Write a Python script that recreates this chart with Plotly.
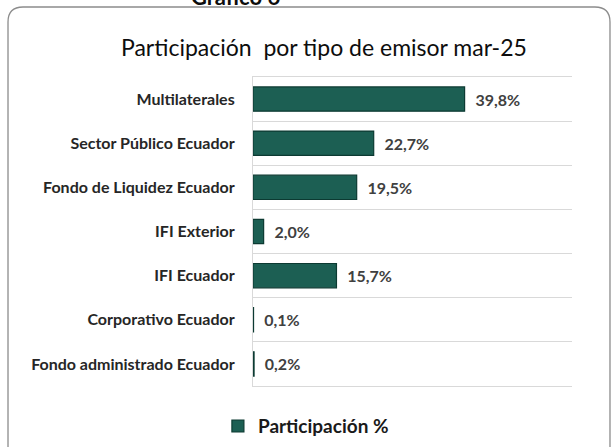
import plotly.graph_objects as go

categories = ["Multilaterales", "Sector Público Ecuador", "Fondo de Liquidez Ecuador",
              "IFI Exterior", "IFI Ecuador", "Corporativo Ecuador", "Fondo administrado Ecuador"]
values = [39.8, 22.7, 19.5, 2.0, 15.7, 0.1, 0.2]
series_name = "Participación %"
title_text = "Participación  por tipo de emisor mar-25"

FONT = "Lato"
fig = go.Figure()
fig.add_trace(go.Bar(
    y=categories, x=values, orientation="h", name=series_name,
    marker=dict(color="#1c5f53", line=dict(color="#0c3a32", width=1.2)),
    width=0.55,
    texttemplate="\u00a0\u00a0%{x:.1f}%", textposition="outside", cliponaxis=False,
    textfont=dict(family=FONT, size=16, color="#404040", weight="bold"),
    showlegend=True,
))

fig.update_layout(
    width=613, height=447,
    margin=dict(l=253, r=41, t=77, b=61, autoexpand=False),
    paper_bgcolor="white", plot_bgcolor="white",
    separators=",.",
    font=dict(family=FONT),
    xaxis=dict(range=[0, 60], showgrid=False, showticklabels=False, zeroline=False,
               showline=True, mirror=True, linecolor="#d9d9d9", linewidth=1.2, ticks=""),
    yaxis=dict(type="category", categoryorder="array", categoryarray=categories,
               autorange="reversed", tickson="boundaries", showgrid=True,
               gridcolor="#d9d9d9", gridwidth=1.2, showline=True, linecolor="#d9d9d9",
               linewidth=1.2, ticks="", ticklabelstandoff=14,
               tickfont=dict(family=FONT, size=16, color="#262626", weight="bold")),
    legend=dict(orientation="h", x=-0.11, y=-0.13, xanchor="left", yanchor="middle",
                font=dict(family=FONT, size=19, color="#1a1a1a", weight="bold"),
                itemwidth=30, bgcolor="rgba(0,0,0,0)"),
    bargap=0.45,
    annotations=[
        dict(text=title_text, xref="paper", yref="paper", x=0.223, y=1.097,
             xanchor="center", yanchor="middle", showarrow=False,
             font=dict(family=FONT, size=23, color="#0d0d0d")),
        dict(text="<b>Gráfico 6</b>", xref="paper", yref="paper", x=-0.056, y=1.262,
             xanchor="center", yanchor="middle", showarrow=False,
             font=dict(family=FONT, size=22, color="#0d0d0d")),
    ],
    shapes=[
        dict(type="path", xref="paper", yref="paper",
             path="M -0.768,-0.3 L -0.768,1.178 Q -0.768,1.2265 -0.721,1.2265 "
                  "L 1.072,1.2265 Q 1.1191,1.2265 1.1191,1.178 L 1.1191,-0.3",
             line=dict(color="#8c8c8c", width=1.3), layer="below"),
    ],
)

fig.write_html("out.html", config={"displayModeBar": False},
               post_script="document.body.style.margin='0';")
